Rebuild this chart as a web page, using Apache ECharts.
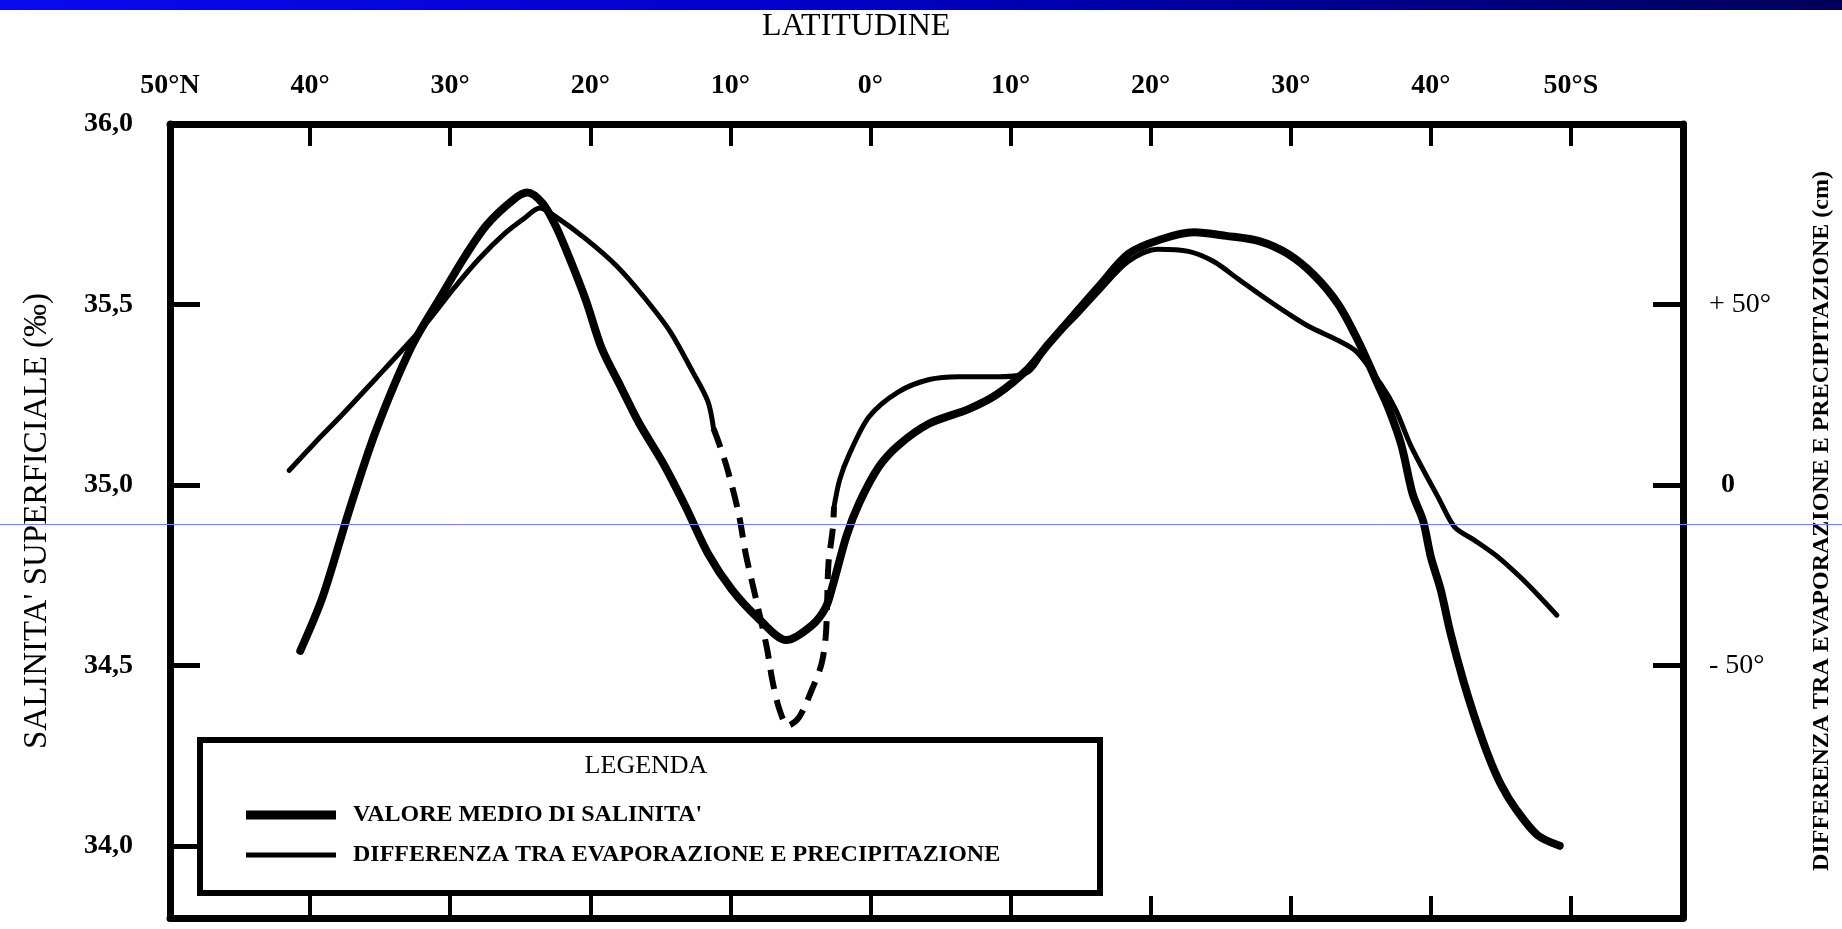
<!DOCTYPE html>
<html><head><meta charset="utf-8">
<script src="https://cdn.jsdelivr.net/npm/echarts@6/dist/echarts.min.js"></script>
<style>html,body{margin:0;padding:0;background:#fff}#c{width:1842px;height:929px}</style>
</head><body><div id="c"></div>
<script>
// Latitude: negative = North, positive = South
const salLat = [-40.7,-39.1,-37.2,-35.3,-32.8,-30.7,-29.0,-27.4,-25.5,-24.5,-23.4,-22.5,-21.5,-20.3,-19.2,-17.8,-16.5,-14.8,-13.2,-11.6,-9.9,-8.0,-6.0,-4.2,-3.2,-2.7,-1.7,-0.8,0.6,2.0,4.2,7.0,9.0,11.2,12.7,14.5,16.3,18.4,20.7,23.1,25.4,27.8,29.8,31.7,33.4,34.8,36.2,37.0,37.9,38.7,39.45,40.0,40.7,41.4,42.3,43.1,44.1,45.0,46.1,47.6,49.2];
const salVal = [34.54,34.69,34.93,35.15,35.38,35.52,35.63,35.72,35.79,35.81,35.78,35.72,35.63,35.51,35.38,35.27,35.17,35.06,34.94,34.81,34.71,34.63,34.57,34.61,34.66,34.72,34.86,34.95,35.05,35.11,35.17,35.21,35.25,35.32,35.39,35.47,35.55,35.64,35.68,35.70,35.69,35.675,35.64,35.58,35.50,35.40,35.28,35.21,35.11,34.975,34.90,34.80,34.71,34.59,34.46,34.36,34.25,34.17,34.10,34.03,34.00];

// Evaporation - precipitation (cm), solid northern part
const epLatA = [-41.5,-39.7,-37.7,-35.3,-32.8,-31.5,-29.8,-27.9,-26.1,-24.7,-23.6,-22.5,-20.3,-18.1,-16.2,-14.3,-12.7,-11.6,-11.2];
const epValA = [4,11.5,19.5,29.5,40,45.8,54.2,62.8,69.7,73.9,76.7,74.4,68.1,60.6,52.2,42.5,31.4,23.1,15.6];
// dashed equatorial part
const epLatB = [-11.2,-10.8,-10.2,-9.4,-8.9,-8.2,-7.4,-7.0,-6.5,-5.9,-5.1,-4.2,-3.5,-3.2,-3.1,-3.0,-2.7,-2.6];
const epValB = [15.6,11.4,4.2,-8.1,-19.2,-31.1,-45,-54.2,-62.2,-66.7,-64.4,-56.9,-49.7,-42.2,-33.9,-21.9,-12.5,-6.1];
// solid southern part
const epLatC = [-2.6,-2.2,-1.5,-0.1,2.0,4.2,6.3,9.2,11.3,12.7,14.5,16.3,18.4,20.5,22.7,24.5,26.3,28.0,29.8,31.3,33.4,34.7,36.4,37.5,38.6,40.6,41.7,43.1,44.8,46.4,47.8,49.0];
const epValC = [-6.1,1.4,8.6,18.9,25.8,29.2,30,30,31.4,39,46,53.6,61.9,65.3,64.7,61.9,56.9,52.2,47.5,43.9,40,36.9,28.1,20.8,10.6,-4,-11.7,-15.3,-20,-25.6,-31.1,-36.1];

const xTicks = [-50,-40,-30,-20,-10,0,10,20,30,40,50];
const xTickLabels = ['50°N','40°','30°','20°','10°','0°','10°','20°','30°','40°','50°S'];
const leftTicks = [34,34.5,35,35.5,36];
const leftTickLabels = ['34,0','34,5','35,0','35,5','36,0'];
const rightTicks = [-50,0,50];
const rightTickLabels = ['- 50°','{b|0}','+ 50°'];

const seriesSal = "VALORE MEDIO DI SALINITA'";
const seriesEP = 'DIFFERENZA TRA EVAPORAZIONE E PRECIPITAZIONE';

const zip = (a,b) => a.map((v,i)=>[v,b[i]]);
const FONT = '"Liberation Serif", "DejaVu Serif", serif';

const chart = echarts.init(document.getElementById('c'), null, {renderer:'canvas'});
const xAxisBase = {
  type:'value', min:-50, max:58,
  axisLine:{show:true, onZero:false, lineStyle:{color:'#000', width:7}},
  axisTick:{show:true, inside:true, length:22, lineStyle:{color:'#000', width:4}, customValues: xTicks.slice(1)},
  splitLine:{show:false}
};
chart.setOption({
  animation:false,
  backgroundColor:'#fff',
  title:{text:'LATITUDINE', left:757, top:6, textStyle:{fontFamily:FONT, fontSize:32, fontWeight:'normal', color:'#000'}},
  grid:{left:170, right:157, top:124, bottom:11},
  legend:{
    orient:'vertical', left:241, top:798, itemWidth:90, itemHeight:9, itemGap:16,
    textStyle:{fontFamily:FONT, fontSize:24, fontWeight:'bold', color:'#000', padding:[0,0,0,12]},
    data:[{name:seriesSal, icon:'path://M0,0h90v9h-90z'},{name:seriesEP, icon:'path://M0,0h90v5h-90z'}],
    itemStyle:{color:'#000'}
  },
  xAxis:[
    Object.assign({}, xAxisBase, {position:'top',
      axisLabel:{show:true, margin:24, customValues:xTicks, fontFamily:FONT, fontSize:28, fontWeight:'bold', color:'#000',
        formatter:v=>{const i=xTicks.indexOf(Math.round(v));return i>=0?xTickLabels[i]:'';}}}),
    Object.assign({}, xAxisBase, {position:'bottom', axisLabel:{show:false}})
  ],
  yAxis:[
    {type:'value', min:33.8, max:36.0, position:'left',
     name:"SALINITA' SUPERFICIALE (‰)", nameLocation:'middle', nameGap:116, nameRotate:90,
     nameTextStyle:{fontFamily:FONT, fontSize:33, color:'#000'},
     axisLine:{show:true, onZero:false, lineStyle:{color:'#000', width:7}},
     axisTick:{show:true, inside:true, length:30, lineStyle:{color:'#000', width:5}, customValues:leftTicks.slice(0,4)},
     axisLabel:{show:true, margin:37, customValues:leftTicks, fontFamily:FONT, fontSize:28, fontWeight:'bold', color:'#000',
       formatter:v=>{const i=leftTicks.findIndex(t=>Math.abs(t-v)<1e-6);return i>=0?leftTickLabels[i]:'';}},
     splitLine:{show:false}},
    {type:'value', min:-120, max:100, position:'right',
     name:'DIFFERENZA TRA EVAPORAZIONE E PRECIPITAZIONE (cm)', nameLocation:'middle', nameGap:127, nameRotate:90,
     nameTextStyle:{fontFamily:FONT, fontSize:24, fontWeight:'bold', color:'#000'},
     axisLine:{show:true, onZero:false, lineStyle:{color:'#000', width:7}},
     axisTick:{show:true, inside:true, length:30, lineStyle:{color:'#000', width:5}, customValues:rightTicks},
     axisLabel:{show:true, margin:26, customValues:rightTicks, fontFamily:FONT, fontSize:28, color:'#000',
       rich:{b:{fontFamily:FONT, fontSize:28, fontWeight:'bold', color:'#000', padding:[0,0,0,12]}},
       formatter:v=>{const i=rightTicks.indexOf(Math.round(v));return i>=0?rightTickLabels[i]:'';}},
     splitLine:{show:false}}
  ],
  series:[
    {name:seriesSal, type:'line', xAxisIndex:0, yAxisIndex:0, data:zip(salLat,salVal), smooth:0.3, symbol:'none',
     lineStyle:{color:'#000', width:8, cap:'round', join:'round'}, itemStyle:{color:'#000'}, z:3},
    {name:seriesEP, type:'line', xAxisIndex:0, yAxisIndex:1, data:zip(epLatA,epValA), smooth:0.3, symbol:'none',
     lineStyle:{color:'#000', width:5, cap:'round'}, itemStyle:{color:'#000'}, z:3},
    {name:seriesEP, type:'line', xAxisIndex:0, yAxisIndex:1, data:zip(epLatB,epValB), smooth:0.3, symbol:'none',
     lineStyle:{color:'#000', width:6, type:[20,11]}, itemStyle:{color:'#000'}, z:3},
    {name:seriesEP, type:'line', xAxisIndex:0, yAxisIndex:1, data:zip(epLatC,epValC), smooth:0.3, symbol:'none',
     lineStyle:{color:'#000', width:5, cap:'round'}, itemStyle:{color:'#000'}, z:3}
  ],
  graphic:[
    {type:'rect', left:0, top:0, z:100, shape:{width:1842, height:10},
     style:{fill:new echarts.graphic.LinearGradient(0,0,1,0,[{offset:0,color:'#0a0af0'},{offset:0.45,color:'#0000c8'},{offset:1,color:'#000058'}])}},
    {type:'line', z:100, shape:{x1:0,y1:524.5,x2:1842,y2:524.5}, style:{stroke:'#7a7aff', lineWidth:1}},
    {type:'rect', z:1, shape:{x:200, y:740, width:900, height:153}, style:{fill:'#fff', stroke:'#000', lineWidth:6}},
    {type:'text', z:2, x:646, y:766, style:{text:'LEGENDA', font:'26px "Liberation Serif", serif', fill:'#000', textAlign:'center', textVerticalAlign:'middle'}}
  ]
});
</script>
</body></html>
